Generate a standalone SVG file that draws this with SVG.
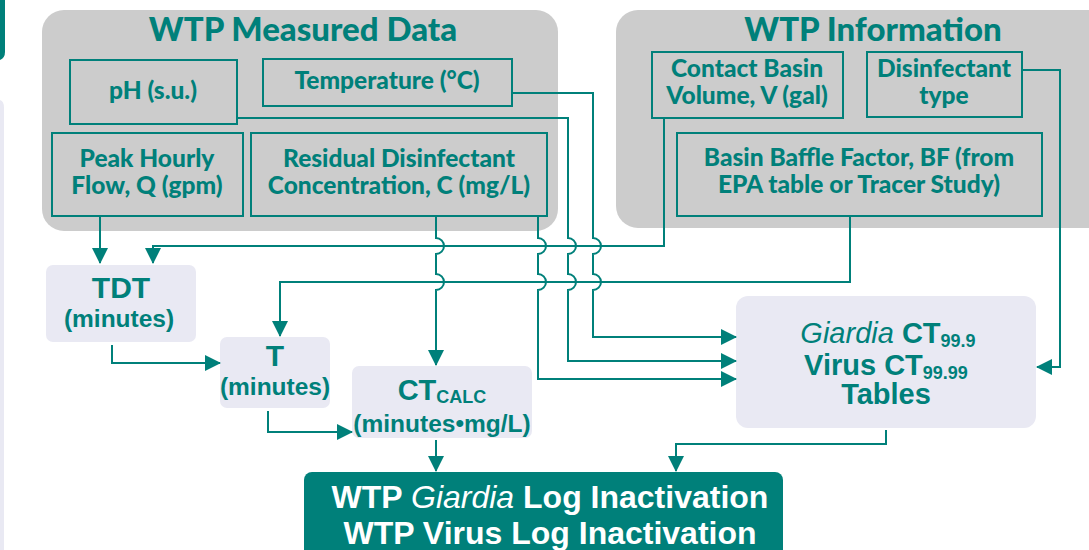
<svg xmlns="http://www.w3.org/2000/svg" width="1089" height="550" viewBox="0 0 1089 550">
  <style>
    .panel { fill: #cccccc; }
    .inbox { fill: none; stroke: #00807a; stroke-width: 2; }
    .calc { fill: #e9e9f3; }
    .final { fill: #00807a; }
    .ttl { font-family: Lato, "Open Sans", sans-serif; font-weight: 900; font-size: 33px; fill: #00807a; text-anchor: middle; }
    .lbl { font-family: Lato, "Open Sans", sans-serif; font-weight: 900; font-size: 24.5px; fill: #00807a; text-anchor: middle; }
    .big { font-family: "Liberation Sans", Arial, sans-serif; font-weight: 700; font-size: 29px; fill: #00807a; text-anchor: middle; }
    .mid { font-family: "Liberation Sans", Arial, sans-serif; font-weight: 700; font-size: 24.5px; fill: #00807a; text-anchor: middle; }
    .out { font-family: "Liberation Sans", Arial, sans-serif; font-weight: 700; font-size: 32px; fill: #ffffff; text-anchor: middle; }
    .it { font-style: italic; font-weight: 400; }
    .sub { font-size: 18px; }
    .wire { fill: none; stroke: #00807a; stroke-width: 2; }
  </style>
  <defs>
    <marker id="arrow" markerUnits="userSpaceOnUse" markerWidth="16" markerHeight="16" viewBox="0 0 16 16" refX="15" refY="8" orient="auto">
      <path d="M0,0 L16,8 L0,16 Z" fill="#00807a"/>
    </marker>
  </defs>

  <!-- slivers of neighbouring slide elements at the left edge -->
  <path d="M0,0 H5 V52 Q5,58 0,60 Z" fill="#00807a"/>
  <path d="M0,100 Q4,101 4,108 V550 H0 Z" fill="#e9e9f3"/>

  <!-- measured data panel -->
  <g id="measured-data">
    <rect class="panel" x="42" y="10" width="516" height="221" rx="22"/>
    <text class="ttl" x="303" y="41">WTP Measured Data</text>
  </g>
  <g id="ph">
    <rect class="inbox" x="70" y="60" width="167" height="64"/>
    <text class="lbl" x="153" y="99">pH (s.u.)</text>
  </g>
  <g id="temperature">
    <rect class="inbox" x="263" y="59" width="249" height="47"/>
    <text class="lbl" x="387" y="89">Temperature (°C)</text>
  </g>
  <g id="peak-flow">
    <rect class="inbox" x="52" y="133" width="191" height="83"/>
    <text class="lbl" x="147" y="167">Peak Hourly</text>
    <text class="lbl" x="147" y="194">Flow, Q (gpm)</text>
  </g>
  <g id="residual">
    <rect class="inbox" x="251" y="133" width="296" height="83"/>
    <text class="lbl" x="399" y="167">Residual Disinfectant</text>
    <text class="lbl" x="399" y="194">Concentration, C (mg/L)</text>
  </g>

  <!-- plant information panel -->
  <g id="wtp-information">
    <rect class="panel" x="616" y="10" width="500" height="218" rx="22"/>
    <text class="ttl" x="873" y="41">WTP Information</text>
  </g>
  <g id="basin-volume">
    <rect class="inbox" x="652" y="52" width="191" height="66"/>
    <text class="lbl" x="747" y="77">Contact Basin</text>
    <text class="lbl" x="747" y="104">Volume, V (gal)</text>
  </g>
  <g id="disinfectant-type">
    <rect class="inbox" x="867" y="52" width="155" height="65"/>
    <text class="lbl" x="944" y="77">Disinfectant</text>
    <text class="lbl" x="944" y="104">type</text>
  </g>
  <g id="baffle-factor">
    <rect class="inbox" x="677" y="133" width="365" height="83"/>
    <text class="lbl" x="859" y="166">Basin Baffle Factor, BF (from</text>
    <text class="lbl" x="859" y="193">EPA table or Tracer Study)</text>
  </g>

  <!-- calculated quantities -->
  <g id="tdt">
    <rect class="calc" x="46" y="265" width="150" height="77" rx="7"/>
    <text class="big" x="121" y="298" style="font-size:30px">TDT</text>
    <text class="mid" x="119" y="327">(minutes)</text>
  </g>
  <g id="t">
    <rect class="calc" x="220" y="337" width="110" height="71" rx="7"/>
    <text class="big" x="275" y="366" style="font-size:30px">T</text>
    <text class="mid" x="275" y="395">(minutes)</text>
  </g>
  <g id="ct-calc">
    <rect class="calc" x="352" y="366" width="180" height="72" rx="7"/>
    <text class="big" x="442" y="400">CT<tspan class="sub" dy="3">CALC</tspan></text>
    <text class="mid" x="442" y="432">(minutes•mg/L)</text>
  </g>
  <g id="ct-tables">
    <rect class="calc" x="736" y="296" width="300" height="132" rx="12"/>
    <text class="big" x="888" y="343"><tspan class="it">Giardia</tspan> CT<tspan class="sub" dy="4">99.9</tspan></text>
    <text class="big" x="886" y="375">Virus CT<tspan class="sub" dy="4">99.99</tspan></text>
    <text class="big" x="886" y="404">Tables</text>
  </g>
  <g id="log-inactivation">
    <rect class="final" x="304" y="472" width="479" height="100" rx="8"/>
    <text class="out" x="550" y="508">WTP <tspan class="it">Giardia</tspan> Log Inactivation</text>
    <text class="out" x="550" y="544">WTP Virus Log Inactivation</text>
  </g>

  <!-- connectors; vertical runs hop over the two horizontal feeds at y=246 and y=282 -->
  <g id="connectors" class="wire">
    <path marker-end="url(#arrow)" d="M100,216 V263"/>
    <path marker-end="url(#arrow)" d="M664,118 V246 H153 V263"/>
    <path marker-end="url(#arrow)" d="M850,216 V282 H280 V336"/>
    <path marker-end="url(#arrow)" d="M1022,70 H1060 V367 H1037"/>
    <path marker-end="url(#arrow)" d="M512,93 H593 V238 A8,8 0 0 1 593,254 V274 A8,8 0 0 1 593,290 V337 H736"/>
    <path marker-end="url(#arrow)" d="M237,118 H568 V238 A8,8 0 0 1 568,254 V274 A8,8 0 0 1 568,290 V361 H736"/>
    <path marker-end="url(#arrow)" d="M538,216 V238 A8,8 0 0 1 538,254 V274 A8,8 0 0 1 538,290 V379 H736"/>
    <path marker-end="url(#arrow)" d="M436,216 V238 A8,8 0 0 1 436,254 V274 A8,8 0 0 1 436,290 V365"/>
    <path marker-end="url(#arrow)" d="M112,345 V363 H220"/>
    <path marker-end="url(#arrow)" d="M268,411 V432 H352"/>
    <path marker-end="url(#arrow)" d="M436,440 V471"/>
    <path marker-end="url(#arrow)" d="M886,430 V444 H676 V471"/>
  </g>
</svg>
